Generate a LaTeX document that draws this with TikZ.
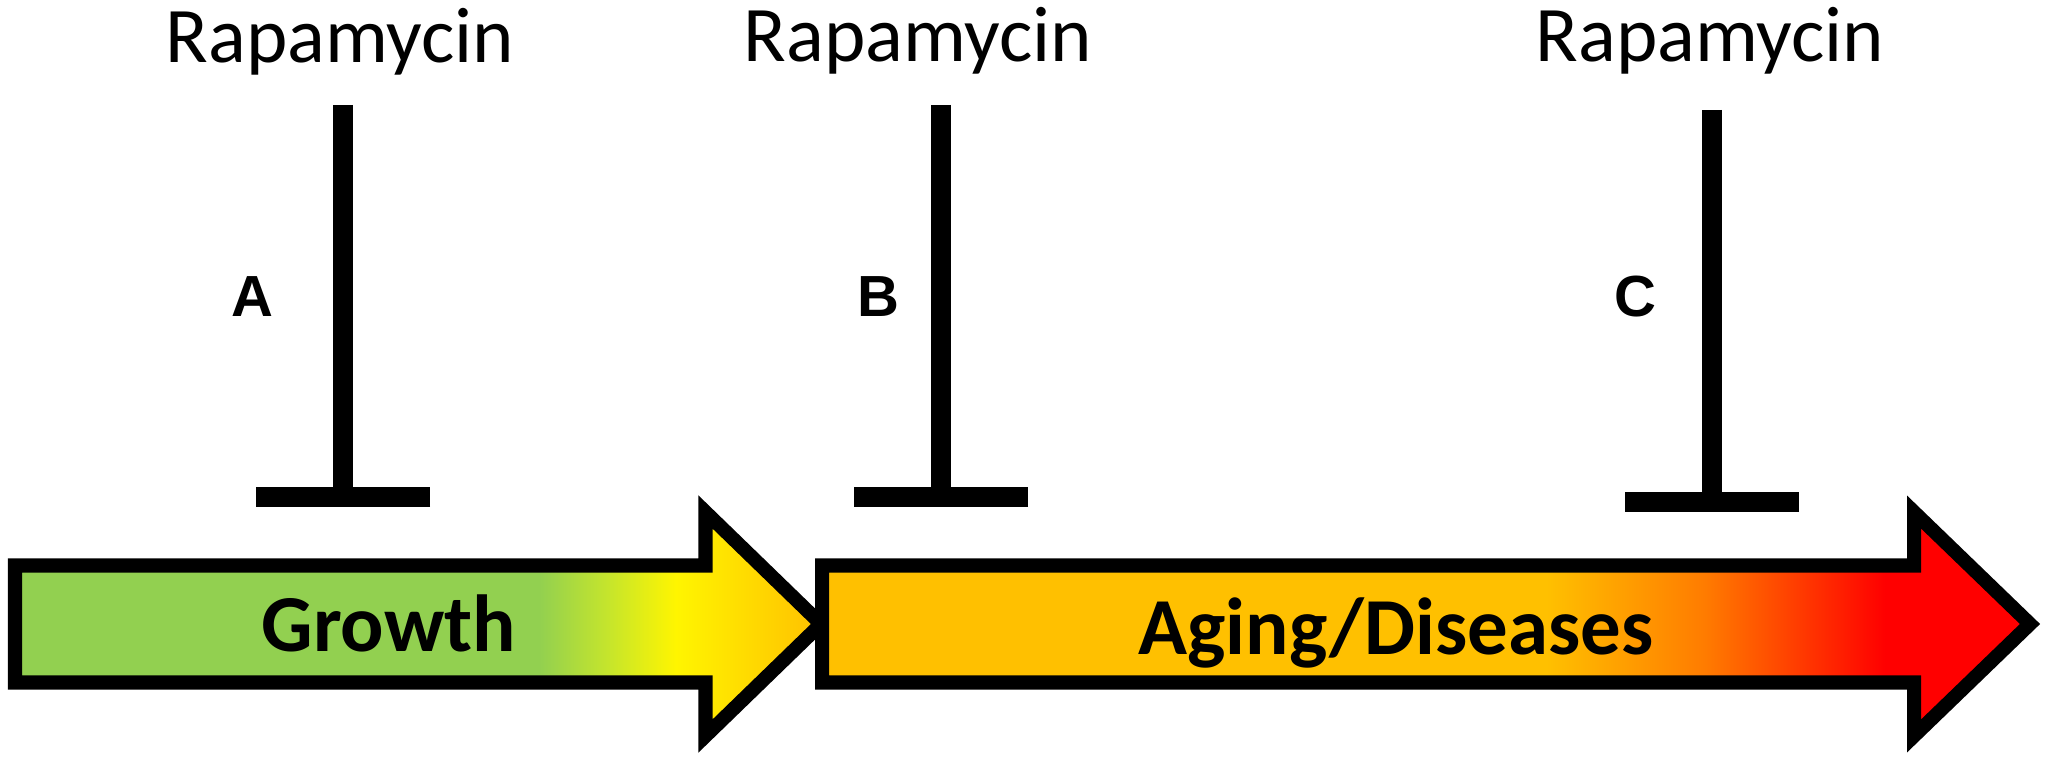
\documentclass[tikz,border=0pt]{standalone}
\usepackage{fontspec}
\setmainfont{Carlito}
\newfontfamily\letrafuente{Liberation Sans}
\usepackage{xcolor}
\usepackage{tikz}
\usetikzlibrary{arrows.meta,positioning,calc}
\definecolor{verde}{HTML}{92D050}
\definecolor{lima}{HTML}{C8E62A}
\definecolor{amarillo}{HTML}{FFF500}
\definecolor{oro}{HTML}{FFC000}
\definecolor{naranja}{HTML}{FF7C00}
\definecolor{rojo}{HTML}{FF0000}
\pgfdeclarehorizontalshading{crecimiento}{100bp}{color(0bp)=(verde); color(57.5bp)=(verde); color(62bp)=(lima); color(66bp)=(amarillo); color(75bp)=(oro); color(100bp)=(oro)}
\pgfdeclarehorizontalshading{envejecimiento}{100bp}{color(0bp)=(oro); color(55bp)=(oro); color(61.5bp)=(naranja); color(69bp)=(rojo); color(100bp)=(rojo)}

\begin{document}
\begin{tikzpicture}[x=0.01cm,y=-0.01cm,
  flecha/.style={draw=black,line width=0.14cm,line join=miter},
  rapa/.style={font=\fontsize{22.4}{26}\selectfont,anchor=base,inner sep=0pt},
  letra/.style={font=\letrafuente\bfseries\fontsize{16.5}{20}\selectfont,inner sep=0pt},
  rotulo/.style={font=\bfseries\fontsize{23}{28}\selectfont,anchor=base,inner sep=0pt},
  inhibe/.style={line width=0.2cm,-{Bar[width=1.74cm]}}
]
\useasboundingbox (0,0) rectangle (2050,767);
% flechas de fondo
\shadedraw[flecha,shading=crecimiento] (15,565.5) -- (705.5,565.5) -- (705.5,512) -- (821,624)
  -- (705.5,736) -- (705.5,682.5) -- (15,682.5) -- cycle;
\shadedraw[flecha,shading=envejecimiento] (822,565.5) -- (1914,565.5) -- (1914,512) -- (2030,624)
  -- (1914,736) -- (1914,682.5) -- (822,682.5) -- cycle;
\node[rotulo] (crec) at (389,652) {Growth};
\node[rotulo] (enve) at (1396,654) {Aging/Diseases};
% rapamicina
\node[rapa] (rapaA) at (340,63) {Rapamycin};
\node[rapa] (rapaB) at (918,62) {Rapamycin};
\node[rapa] (rapaC) at (1710,62) {Rapamycin};
\coordinate (iniA) at (343,105);
\coordinate (finA) at (343,507);
\coordinate (iniB) at (941,105);
\coordinate (finB) at (941,507);
\coordinate (iniC) at (1712,110);
\coordinate (finC) at (1712,512);
\draw[inhibe] (iniA) -- (finA);
\draw[inhibe] (iniB) -- (finB);
\draw[inhibe] (iniC) -- (finC);
\node[letra] (letA) at (252,297) {A};
\node[letra] (letB) at (878,297) {B};
\node[letra] (letC) at (1635,297) {C};
\end{tikzpicture}
\end{document}
